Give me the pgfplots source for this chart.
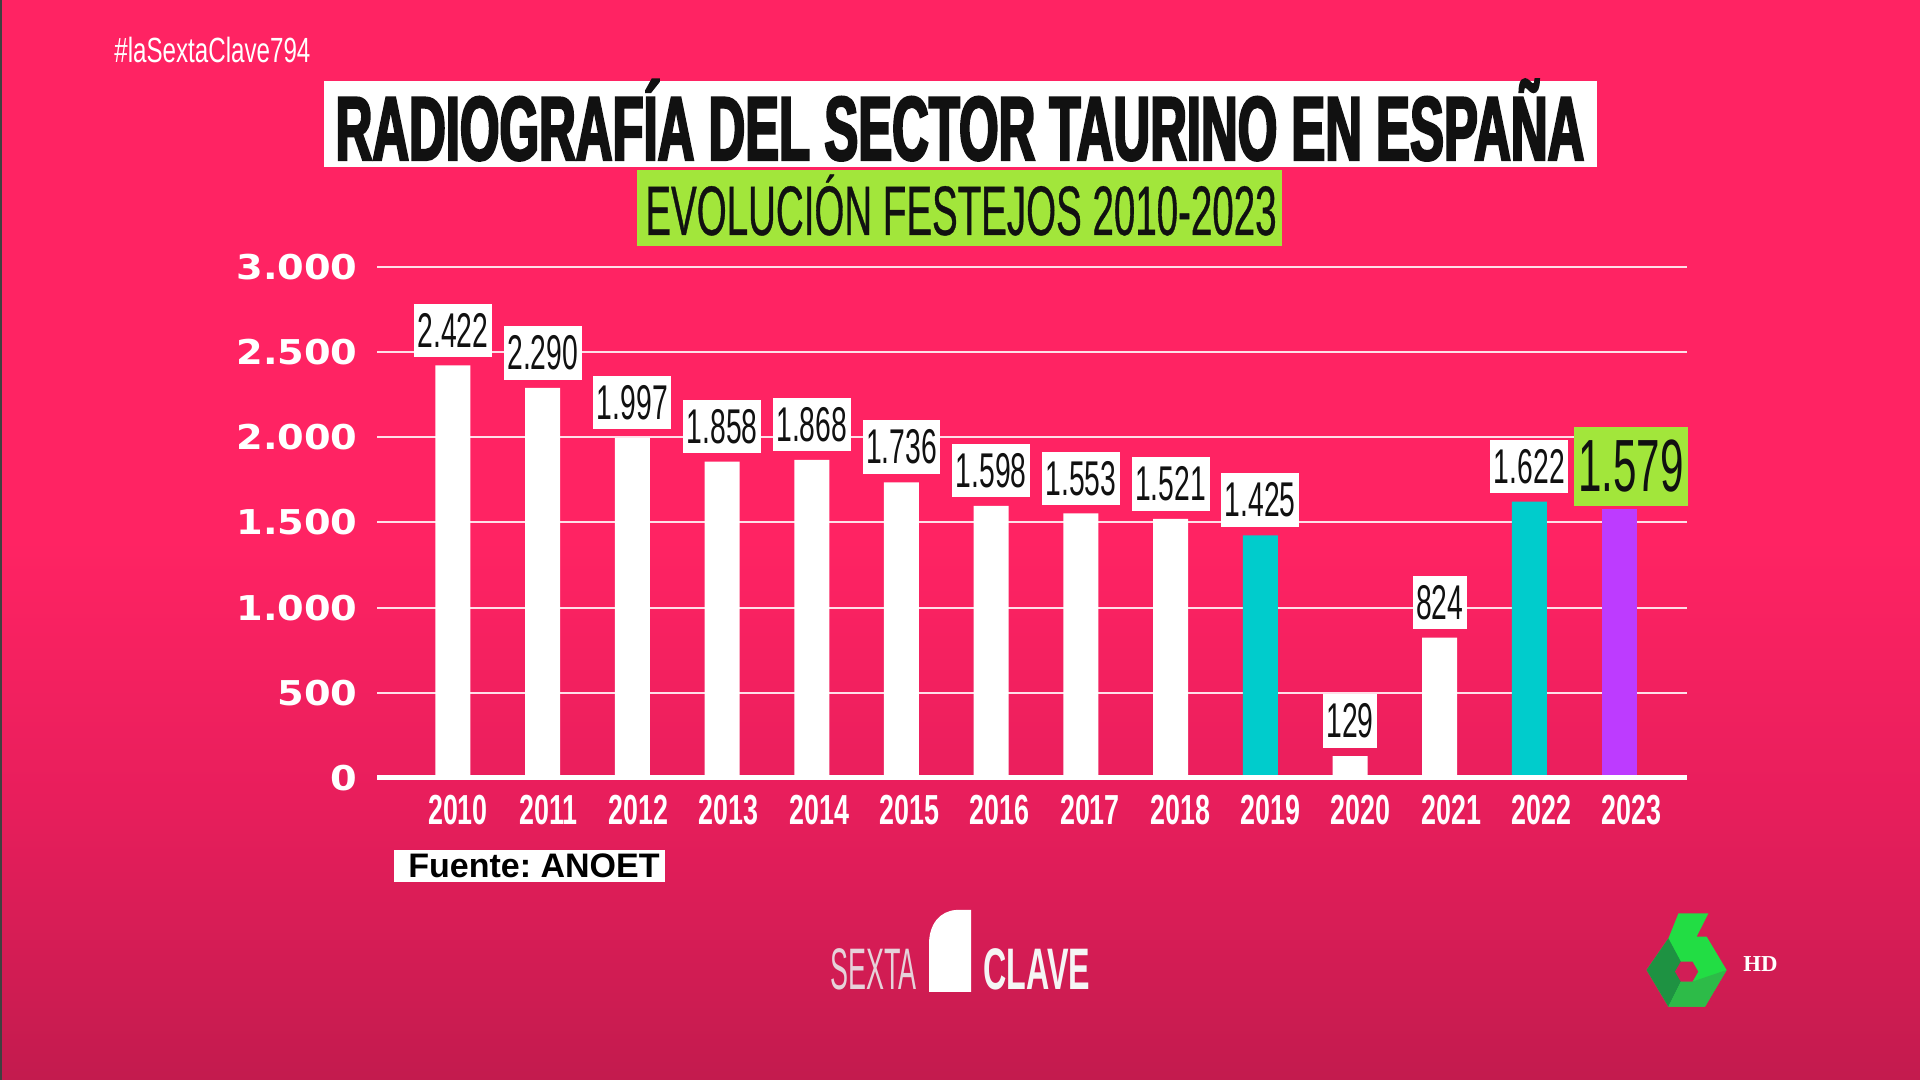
\documentclass[border=0pt]{standalone}
\usepackage{fontspec}
\usepackage{pgfplots}
\pgfplotsset{compat=1.18}
\setmainfont{Liberation Sans}
\newfontfamily\titlefont[FakeStretch=0.56,BoldFeatures={FakeBold=2.4}]{Liberation Sans}
\newfontfamily\subfont[FakeStretch=0.55,FakeBold=0.5]{Liberation Sans}
\newfontfamily\hashfont[FakeStretch=0.69]{Liberation Sans}
\newfontfamily\condA[FakeStretch=0.64]{Liberation Sans}
\newfontfamily\condB[FakeStretch=0.58]{Liberation Sans}
\newfontfamily\condC[FakeStretch=0.57]{Liberation Sans}
\newfontfamily\widefont[FakeStretch=1.12]{DejaVu Sans}
\newfontfamily\sextafont[FakeStretch=0.46]{Liberation Sans}
\newfontfamily\clavefont[FakeStretch=0.55]{Liberation Sans}
\newfontfamily\hdfont{Liberation Serif}
\frenchspacing

\newcommand\ytfont{\widefont\bfseries\fontsize{17.1}{17.1}\selectfont}
\newcommand\xtfont{\condA\bfseries\fontsize{21}{21}\selectfont}
\newcommand\valfont{\condB\fontsize{24.4}{24.4}\selectfont}
\newcommand\bigval{\condC\fontsize{37}{37}\selectfont}

\definecolor{bgtop}{HTML}{FF2363}
\definecolor{bgmid}{HTML}{E81E5C}
\definecolor{bgbot}{HTML}{C31B4E}
\definecolor{barcyan}{HTML}{00CCCC}
\definecolor{barpurple}{HTML}{BD3BFF}
\definecolor{lime}{HTML}{A2E63B}
\definecolor{inkblack}{HTML}{111111}
\definecolor{sextagray}{HTML}{E6D2DA}
\definecolor{greenA}{HTML}{22DD44}
\definecolor{greenB}{HTML}{1E9242}
\definecolor{greenC}{HTML}{2DBB48}
\definecolor{holecol}{HTML}{D11E56}

\pgfdeclareverticalshading{bgshade}{100bp}{color(0bp)=(bgbot); color(25bp)=(bgbot); color(38bp)=(bgmid); color(50bp)=(bgtop); color(100bp)=(bgtop)}

\begin{document}
\begin{tikzpicture}[x=1pt,y=1pt]
% background
\shade[shading=bgshade] (0,0) rectangle (960,540);
\useasboundingbox (0,0) rectangle (960,540);
\fill[black!75] (0,0) rectangle (1.2,540);

% hashtag
\node[anchor=base west, inner sep=0, text=white] at (57,508.5)
  {\hashfont\fontsize{17.5}{17.5}\selectfont \#laSextaClave794};

% title
\fill[white] (162,456.5) rectangle (798.5,499.5);
\node[anchor=base, inner sep=0, text=inkblack] at (480,460)
  {\titlefont\bfseries\fontsize{45.4}{45.4}\selectfont RADIOGRAFÍA DEL SECTOR TAURINO EN ESPAÑA};

% subtitle
\fill[lime] (318.5,417) rectangle (641,455);
\node[anchor=base, inner sep=0, text=inkblack] at (480.5,422.5)
  {\subfont\fontsize{35}{35}\selectfont EVOLUCIÓN FESTEJOS 2010-2023};

\begin{axis}[
    at={(188.5pt,151pt)}, anchor=south west,
    scale only axis, width=655pt, height=255.5pt,
    xmin=-0.847, xmax=13.757, ymin=0, ymax=3000,
    axis line style={draw=none},
    major tick length=0pt,
    ymajorgrids,
    major grid style={white!85!bgtop, line width=1pt},
    ytick={0,500,...,3000},
    xtick={0.056,1.0625,2.069,3.0755,4.082,5.0885,6.095,7.1015,8.108,9.1145,10.121,11.1275,12.134,13.1405},
    xticklabels={2010,2011,2012,2013,2014,2015,2016,2017,2018,2019,2020,2021,2022,2023},
    /pgf/number format/1000 sep={.},
    /pgf/number format/assume math mode=true,
    yticklabel style={font=\ytfont, text=white, anchor=east, inner sep=0pt, xshift=-9.5pt},
    xticklabel style={font=\xtfont, text=white, anchor=base, inner sep=0pt, yshift=-23.5pt},
    ybar, bar width=17.5pt, bar shift=0pt,
    nodes near coords,
    every node near coord/.append style={fill=white, text=inkblack, font=\valfont,
        inner xsep=1.75pt, inner ysep=4.75pt, anchor=south, yshift=4pt},
    clip=false,
]
\addplot[fill=white, draw=none] coordinates {
    (0,2422) (1,2290) (2,1997) (3,1858) (4,1868) (5,1736) (6,1598)
    (7,1553) (8,1521) (10,129) (11,824)
};
\addplot[fill=barcyan, draw=none] coordinates {
    (9,1425) (12,1622)
};
\addplot[fill=barpurple, draw=none,
    nodes near coords style={fill=lime, font=\bigval, inner xsep=2pt, inner ysep=6.6pt,
        yshift=-2.5pt, xshift=6pt}] coordinates {
    (13,1579)
};
\draw[white, line width=2.5pt] (rel axis cs:0,0) -- (rel axis cs:1,0);
\end{axis}

% source
\fill[white] (197,99) rectangle (332.5,115);
\node[anchor=base west, inner sep=0, text=black] at (204,101)
  {\bfseries\fontsize{17}{17}\selectfont Fuente: ANOET};

% Sexta Clave logo
\node[anchor=base west, inner sep=0, text=sextagray] at (415,45)
  {\sextafont\fontsize{29.3}{29.3}\selectfont SEXTA};
\fill[white] (464.5,44) -- (464.5,68) .. controls (464.5,78) and (470,84.5) .. (478,85)
  -- (485.5,85) -- (485.5,44) -- cycle;
\node[anchor=base west, inner sep=0, text=white!92!gray] at (491.5,45)
  {\clavefont\bfseries\fontsize{29.3}{29.3}\selectfont CLAVE};

% laSexta logo
\fill[greenA] (839.2,83.3) -- (854.2,83.3) -- (848.3,71.7) -- (853.3,71.7) -- (863.3,55)
  -- (852.5,36.7) -- (834.2,36.7) -- (823.3,55) -- (834.2,70.8) -- cycle;
\fill[greenB] (823.3,55) -- (834.2,70.8) -- (840.4,59.2) -- (840.4,49.2) -- (834.2,36.7) -- cycle;
\fill[greenC] (834.2,36.7) -- (840.4,49.2) -- (846.2,49.2) -- (863.3,55) -- (852.5,36.7) -- cycle;
\fill[holecol] (843.3,54.2) +(0:5.8) -- +(60:5.8) -- +(120:5.8) -- +(180:5.8)
  -- +(240:5.8) -- +(300:5.8) -- cycle;
\node[anchor=base west, inner sep=0, text=white] at (871.5,54)
  {\hdfont\bfseries\fontsize{11.4}{11.4}\selectfont HD};
\end{tikzpicture}
\end{document}
